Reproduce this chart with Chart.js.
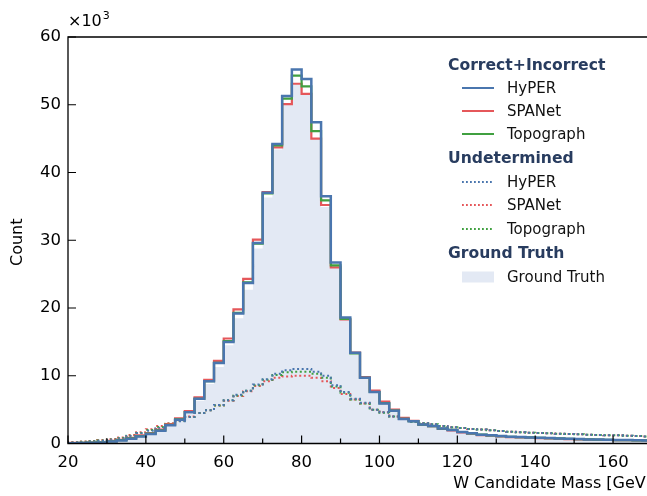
<!DOCTYPE html>
<html><head><meta charset="utf-8">
<script src="https://cdn.jsdelivr.net/npm/chart.js@4.4.1/dist/chart.umd.min.js"></script>
<style>html,body{margin:0;padding:0;overflow:hidden;background:#fff}#wrap{width:660px;height:496px}</style>
</head><body><div id="wrap"><canvas id="c" width="660" height="496"></canvas></div>
<script>
// Bin lower edges (GeV), bin width 2.5, last upper edge 170
const binEdges = [20,22.5,25,27.5,30,32.5,35,37.5,40,42.5,45,47.5,50,52.5,55,57.5,60,62.5,65,67.5,
  70,72.5,75,77.5,80,82.5,85,87.5,90,92.5,95,97.5,100,102.5,105,107.5,110,112.5,115,117.5,
  120,122.5,125,127.5,130,132.5,135,137.5,140,142.5,145,147.5,150,152.5,155,157.5,160,162.5,165,167.5];
const upperEdge = 170;
const xTickLabels = [20,40,60,80,100,120,140,160];
const xMinorTicks = [30,50,70,90,110,130,150,170];
const yTickLabels = [0,10,20,30,40,50,60];

// Counts in units of 10^3
const hyperSolid = [0.05,0.07,0.1,0.15,0.3,0.45,0.7,1.05,1.4,1.9,2.7,3.5,4.6,6.6,9.2,11.9,15.0,19.2,23.7,29.6,
  37.0,44.2,51.3,55.2,53.8,47.4,36.5,26.7,18.6,13.4,9.7,7.6,5.9,4.85,3.6,3.3,2.8,2.6,2.2,2.0,
  1.7,1.5,1.3,1.2,1.1,1.0,0.95,0.9,0.85,0.8,0.75,0.7,0.65,0.6,0.58,0.55,0.52,0.5,0.48,0.45];
const spanetSolid = [0.08,0.1,0.14,0.2,0.38,0.55,0.82,1.2,1.55,2.05,2.85,3.7,4.8,6.8,9.4,12.2,15.5,19.8,24.3,30.1,
  37.1,43.7,50.1,53.1,51.6,45.0,35.2,26.0,18.3,13.4,9.8,7.8,6.2,5.0,3.8,3.35,2.8,2.55,2.15,1.95,
  1.65,1.45,1.25,1.15,1.05,0.95,0.9,0.85,0.8,0.75,0.7,0.66,0.62,0.58,0.55,0.52,0.5,0.48,0.46,0.44];
const topoSolid = [0.06,0.08,0.12,0.17,0.33,0.5,0.75,1.1,1.45,1.95,2.75,3.55,4.65,6.6,9.2,11.9,15.1,19.3,23.8,29.5,
  36.9,44.0,50.9,54.3,52.7,46.1,35.9,26.3,18.4,13.3,9.7,7.6,5.95,4.85,3.65,3.3,2.8,2.55,2.2,2.0,
  1.7,1.5,1.3,1.2,1.1,1.0,0.95,0.9,0.85,0.8,0.75,0.7,0.65,0.6,0.57,0.54,0.51,0.49,0.47,0.45];
const groundTruth = [0.05,0.07,0.1,0.14,0.28,0.42,0.66,1.0,1.33,1.8,2.6,3.35,4.4,6.3,8.8,11.3,14.5,18.5,22.7,28.8,
  36.3,43.4,50.0,53.0,51.5,45.0,34.9,26.0,18.3,13.2,9.6,7.5,5.85,4.8,3.6,3.25,2.75,2.55,2.15,1.95,
  1.65,1.45,1.25,1.15,1.05,0.95,0.9,0.85,0.8,0.75,0.7,0.66,0.62,0.58,0.55,0.52,0.5,0.48,0.46,0.44];
const hyperUndet = [0.15,0.2,0.3,0.4,0.55,0.75,1.1,1.5,1.9,2.3,2.8,3.3,3.9,4.5,4.9,5.7,6.4,7.2,7.8,8.7,
  9.5,10.3,10.8,11.0,11.0,10.6,10.0,8.6,7.6,6.6,6.0,5.0,4.6,4.0,3.6,3.2,3.0,2.85,2.6,2.4,
  2.3,2.15,2.05,1.95,1.85,1.75,1.65,1.6,1.55,1.5,1.45,1.4,1.35,1.3,1.25,1.2,1.2,1.15,1.1,1.05];
const spanetUndet = [0.2,0.28,0.38,0.5,0.65,0.9,1.25,1.65,2.1,2.6,3.0,3.45,4.0,4.5,4.9,5.6,6.3,7.0,7.7,8.5,
  9.2,9.7,9.9,10.0,10.0,9.7,9.2,8.2,7.3,6.5,5.9,5.0,4.6,4.0,3.6,3.25,3.0,2.85,2.6,2.4,
  2.3,2.15,2.05,1.95,1.85,1.75,1.65,1.6,1.55,1.5,1.45,1.4,1.35,1.3,1.25,1.2,1.2,1.15,1.1,1.05];
const topoUndet = [0.17,0.24,0.34,0.45,0.6,0.82,1.15,1.55,2.0,2.45,2.9,3.35,3.9,4.5,4.9,5.6,6.4,7.1,7.8,8.6,
  9.4,10.1,10.5,10.6,10.6,10.3,9.7,8.4,7.5,6.5,5.9,5.0,4.55,4.0,3.6,3.2,3.0,2.85,2.6,2.4,
  2.3,2.15,2.05,1.95,1.85,1.75,1.65,1.6,1.55,1.5,1.45,1.4,1.35,1.3,1.25,1.2,1.2,1.15,1.1,1.05];

const BLUE = '#4a76ae', RED = '#e5575a', GREEN = '#40a040', FILL = '#e3e9f4', HEAD = '#283c5f';
const FONT = 'DejaVu Sans';

function stepData(vals){
  const pts = [{x: binEdges[0], y: 0}];
  binEdges.forEach((x,i)=>pts.push({x, y: vals[i]}));
  pts.push({x: upperEdge, y: vals[vals.length-1]});
  return pts;
}
function solid(label, vals, color, order, w){
  return {label, data: stepData(vals), borderColor: color, borderWidth: w, stepped: true, fill: false, order, pointRadius: 0};
}
function dotted(label, vals, color, order){
  return {label, data: stepData(vals), borderColor: color, borderWidth: 2, borderDash: [2, 2.6], stepped: true, fill: false, order, pointRadius: 0};
}

const legendItems = [
  {type:'head', text:'Correct+Incorrect', y:65},
  {type:'solid', color:BLUE, text:'HyPER', y:88},
  {type:'solid', color:RED, text:'SPANet', y:111},
  {type:'solid', color:GREEN, text:'Topograph', y:134},
  {type:'head', text:'Undetermined', y:158},
  {type:'dot', color:BLUE, text:'HyPER', y:182},
  {type:'dot', color:RED, text:'SPANet', y:205},
  {type:'dot', color:GREEN, text:'Topograph', y:229},
  {type:'head', text:'Ground Truth', y:253},
  {type:'fill', color:FILL, text:'Ground Truth', y:277}
];

const decor = {
  id: 'decor',
  afterDraw(chart){
    const {ctx, chartArea: a, scales: {x, y}} = chart;
    ctx.save();
    ctx.strokeStyle = '#000'; ctx.lineWidth = 1.3; ctx.setLineDash([]);
    ctx.beginPath(); ctx.rect(a.left, a.top, a.right - a.left, a.bottom - a.top); ctx.stroke();
    ctx.lineWidth = 1.2;
    ctx.beginPath();
    xTickLabels.forEach(v=>{const px = x.getPixelForValue(v); ctx.moveTo(px, a.bottom); ctx.lineTo(px, a.bottom - 8);});
    xMinorTicks.forEach(v=>{const px = x.getPixelForValue(v); ctx.moveTo(px, a.bottom); ctx.lineTo(px, a.bottom - 5);});
    yTickLabels.forEach(v=>{const py = y.getPixelForValue(v); ctx.moveTo(a.left, py); ctx.lineTo(a.left + 8, py);});
    ctx.stroke();
    // multiplier
    ctx.fillStyle = '#000';
    ctx.textBaseline = 'alphabetic'; ctx.textAlign = 'left';
    ctx.font = '16px "' + FONT + '"';
    ctx.fillText('×10', a.left, a.top - 11);
    const w = ctx.measureText('×10').width;
    ctx.font = '11px "' + FONT + '"';
    ctx.fillText('3', a.left + w + 1, a.top - 18);
    // axis titles
    ctx.font = '16px "' + FONT + '"';
    ctx.textAlign = 'right'; ctx.textBaseline = 'middle';
    ctx.fillText('W Candidate Mass [GeV]', a.right, 484);
    ctx.save();
    ctx.translate(18, (a.top + a.bottom) / 2 + 2);
    ctx.rotate(-Math.PI/2);
    ctx.textAlign = 'center';
    ctx.fillText('Count', 0, 0);
    ctx.restore();
    // legend
    legendItems.forEach(it=>{
      ctx.textAlign = 'left'; ctx.textBaseline = 'middle';
      if (it.type === 'head'){
        ctx.fillStyle = HEAD; ctx.font = 'bold 15.6px "' + FONT + '"';
        ctx.fillText(it.text, 448, it.y + 1);
        return;
      }
      if (it.type === 'fill'){
        ctx.fillStyle = it.color; ctx.fillRect(462, it.y - 5.5, 32, 11);
      } else {
        ctx.strokeStyle = it.color;
        if (it.type === 'dot'){ ctx.lineWidth = 1.8; ctx.setLineDash([1.8, 2.2]); }
        else { ctx.lineWidth = 2; ctx.setLineDash([]); }
        ctx.beginPath(); ctx.moveTo(462, it.y); ctx.lineTo(494, it.y); ctx.stroke();
        ctx.setLineDash([]);
      }
      ctx.fillStyle = '#111'; ctx.font = '15px "' + FONT + '"';
      ctx.fillText(it.text, 507, it.y + 1);
    });
    ctx.restore();
  }
};

new Chart(document.getElementById('c').getContext('2d'), {
  type: 'line',
  data: { datasets: [
    solid('HyPER', hyperSolid, BLUE, 0, 2.5),
    solid('Topograph', topoSolid, GREEN, 1, 2.2),
    solid('SPANet', spanetSolid, RED, 2, 2.2),
    dotted('HyPER undetermined', hyperUndet, BLUE, 3),
    dotted('Topograph undetermined', topoUndet, GREEN, 4),
    dotted('SPANet undetermined', spanetUndet, RED, 5),
    {label:'Ground Truth', data: stepData(groundTruth), borderWidth: 0, borderColor: FILL, backgroundColor: FILL, fill: 'origin', stepped: true, order: 10, pointRadius: 0}
  ]},
  options: {
    responsive: false, animation: false, devicePixelRatio: 1,
    layout: { padding: { left: 0, top: 37, right: 8, bottom: 0 } },
    plugins: { legend: { display: false }, tooltip: { enabled: false } },
    scales: {
      x: { type: 'linear', min: 20, max: 170,
        grid: { display: false, drawTicks: false }, border: { display: false },
        ticks: { font: { family: FONT, size: 16.5 }, color: '#000', padding: 9, maxRotation: 0, autoSkip: false },
        afterBuildTicks: s => { s.ticks = xTickLabels.map(v => ({ value: v })); },
        afterFit: s => { s.height = 52.5; } },
      y: { type: 'linear', min: 0, max: 60,
        grid: { display: false, drawTicks: false }, border: { display: false },
        ticks: { font: { family: FONT, size: 16.5 }, color: '#000', padding: 7 },
        afterBuildTicks: s => { s.ticks = yTickLabels.map(v => ({ value: v })); },
        afterFit: s => { s.width = 68; } }
    }
  },
  plugins: [decor]
});
</script></body></html>
